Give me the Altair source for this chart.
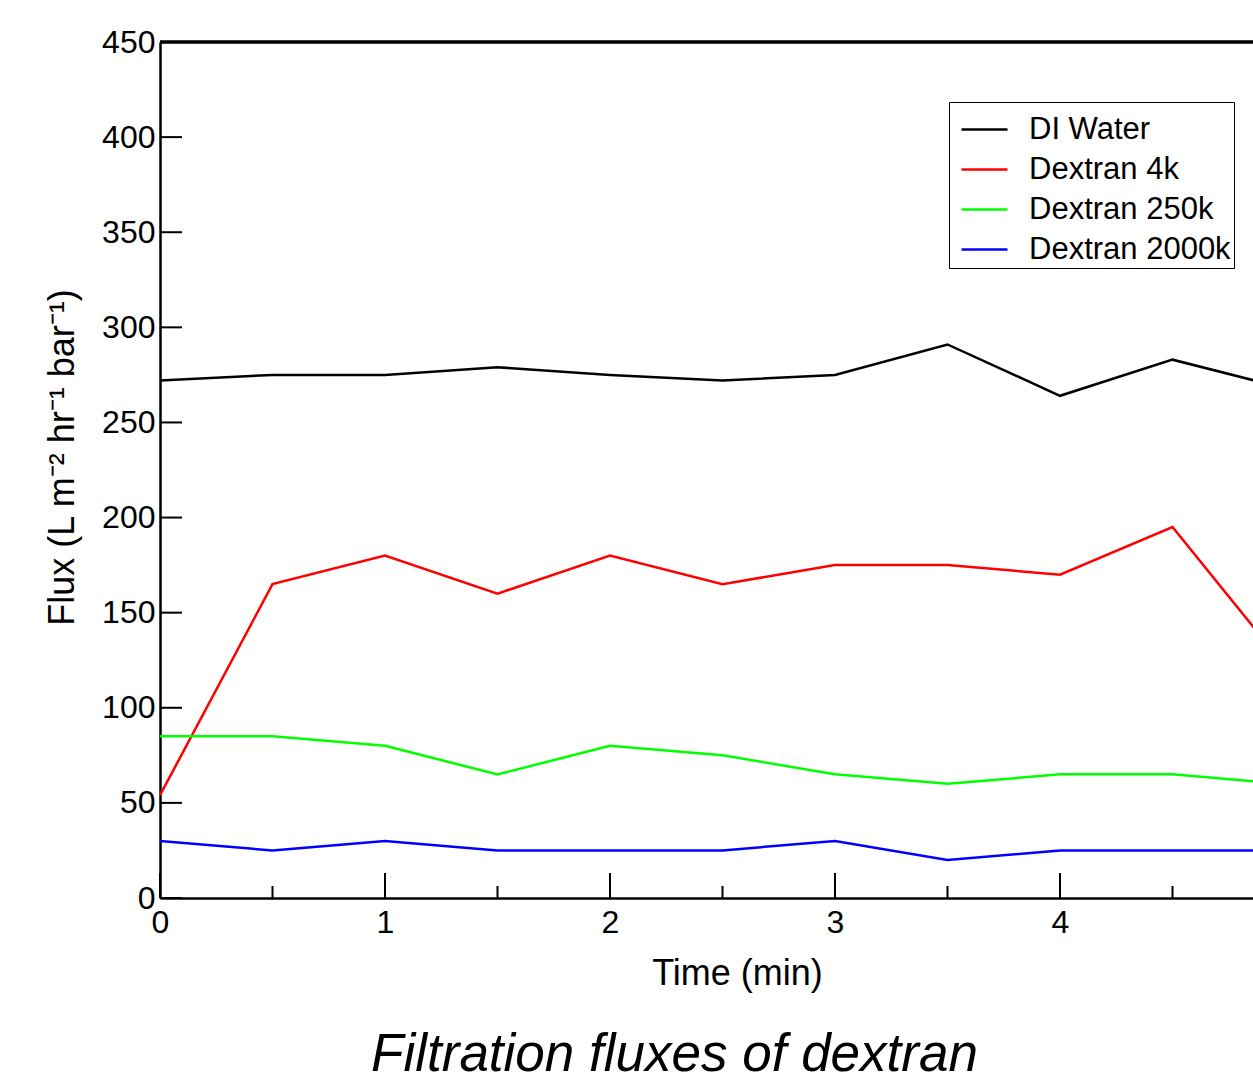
import altair as alt
import pandas as pd

# ---- data ----
time_min = [0, 0.5, 1, 1.5, 2, 2.5, 3, 3.5, 4, 4.5, 5]
di_water = [272, 275, 275, 279, 275, 272, 275, 291, 264, 283, 268]
dextran_4k = [54, 165, 180, 160, 180, 165, 175, 175, 170, 195, 122]
dextran_250k = [85, 85, 80, 65, 80, 75, 65, 60, 65, 65, 60]
dextran_2000k = [30, 25, 30, 25, 25, 25, 30, 20, 25, 25, 25]

series_names = ["DI Water", "Dextran 4k", "Dextran 250k", "Dextran 2000k"]
series_colors = ["#000000", "#ff0000", "#00ff00", "#0000ff"]

y_ticks = [0, 50, 100, 150, 200, 250, 300, 350, 400, 450]
x_major = [0, 1, 2, 3, 4]
x_minor = [0.5, 1.5, 2.5, 3.5, 4.5]

rows = []
for name, vals in zip(series_names, [di_water, dextran_4k, dextran_250k, dextran_2000k]):
    for t, v in zip(time_min, vals):
        rows.append({"Time": t, "Flux": v, "Series": name})
df = pd.DataFrame(rows)

W, H = 1093, 856
FONT = "Liberation Sans"
x_scale = alt.Scale(domain=[0, W / 225.0], nice=False, zero=False)
y_scale = alt.Scale(domain=[0, 450], nice=False)

x_axis = alt.Axis(values=x_major, title="Time (min)", ticks=False,
                  labelFlush=False, labelPadding=9, labelFontSize=32,
                  titleFontSize=36, titleFontWeight="normal", titlePadding=18,
                  titleX=577, domainColor="black", domainWidth=2.5,
                  grid=False, labelColor="black", titleColor="black",
                  labelFont=FONT, titleFont=FONT, format="d")
y_axis = alt.Axis(values=y_ticks, title="Flux (L m⁻² hr⁻¹ bar⁻¹)", ticks=False,
                  labelPadding=5, labelFontSize=32, titleFontSize=36,
                  titleFontWeight="normal", titlePadding=20, titleY=415,
                  domainColor="black", domainWidth=2.5, grid=False,
                  labelColor="black", titleColor="black",
                  labelFont=FONT, titleFont=FONT)

lines = alt.Chart(df).mark_line(strokeWidth=2.5, clip=True).encode(
    x=alt.X("Time:Q", scale=x_scale, axis=x_axis),
    y=alt.Y("Flux:Q", scale=y_scale, axis=y_axis),
    color=alt.Color("Series:N",
                    scale=alt.Scale(domain=series_names, range=series_colors),
                    legend=alt.Legend(title=None, orient="none", legendX=789, legendY=60,
                                      symbolType="stroke", symbolSize=2116,
                                      symbolStrokeWidth=2.5, symbolOffset=8,
                                      labelFontSize=31, labelFont=FONT,
                                      labelColor="black", labelOffset=20, padding=3,
                                      rowPadding=0, strokeColor="black",
                                      labelLimit=400, fillColor="white")),
    detail="Series:N",
)

ytick_df = pd.DataFrame({"Flux": y_ticks})
ytick_rules = alt.Chart(ytick_df).mark_rule(color="black", strokeWidth=2).encode(
    y=alt.Y("Flux:Q", scale=y_scale, axis=y_axis),
    x=alt.value(0), x2=alt.value(22),
)

xmaj_df = pd.DataFrame({"Time": x_major})
xmaj_rules = alt.Chart(xmaj_df).mark_rule(color="black", strokeWidth=2).encode(
    x=alt.X("Time:Q", scale=x_scale, axis=x_axis),
    y=alt.value(H), y2=alt.value(H - 25),
)

xmin_df = pd.DataFrame({"Time": x_minor})
xmin_rules = alt.Chart(xmin_df).mark_rule(color="black", strokeWidth=2).encode(
    x=alt.X("Time:Q", scale=x_scale, axis=x_axis),
    y=alt.value(H), y2=alt.value(H - 12),
)

top_line = alt.Chart(xmaj_df).mark_rule(color="black", strokeWidth=2.5).encode(
    x=alt.value(0), x2=alt.value(W), y=alt.value(0),
)

chart = alt.layer(lines, ytick_rules, xmaj_rules, xmin_rules, top_line).properties(
    width=W, height=H,
    autosize=alt.AutoSizeParams(type="none"),
    padding={"left": 160, "top": 42, "right": 0, "bottom": 186},
    title=alt.TitleParams("Filtration fluxes of dextran", orient="bottom", anchor="middle",
                          fontSize=53, fontStyle="italic", fontWeight="normal",
                          font=FONT, color="black", dx=-32, offset=38),
).configure_view(stroke=None).configure_legend(strokeWidth=2).configure(background="white")

chart.save("out.html", embed_options={"renderer": "svg", "actions": False})
